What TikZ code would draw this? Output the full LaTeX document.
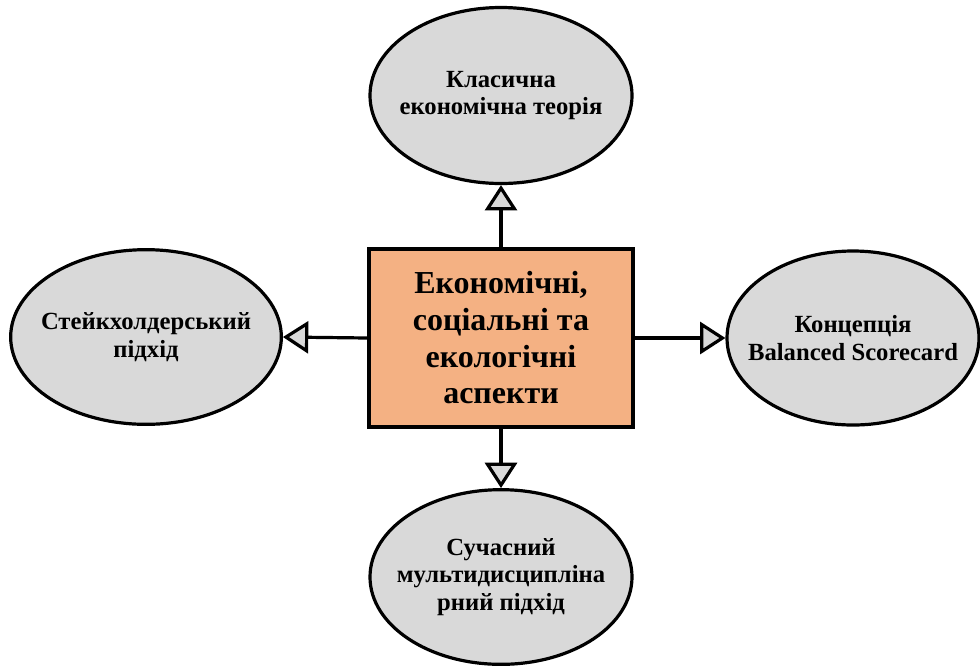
\documentclass[tikz,border=0pt]{standalone}
\usepackage{fontspec}
\setmainfont{Liberation Serif}
\usetikzlibrary{shapes.geometric,arrows.meta}
\definecolor{ellgray}{HTML}{D9D9D9}
\definecolor{coreorange}{HTML}{F4B183}
\begin{document}
\begin{tikzpicture}[x=0.75pt,y=-0.75pt,
  ellnode/.style={ellipse, draw, line width=2.4pt, fill=ellgray, align=center,
    inner xsep=-60pt, inner ysep=-40pt,
    font=\fontsize{18.5}{20.8}\selectfont\bfseries},
  conn/.style={line width=2.4pt, -{Triangle[length=19pt,width=24pt,fill=ellgray]}}]
\useasboundingbox (0,0) rectangle (980,668);
% central box
\node (core) at (501,338) [rectangle, draw, line width=2.4pt, fill=coreorange,
  minimum width=198pt, minimum height=133.5pt, align=center,
  font=\fontsize{24}{27.5}\selectfont\bfseries] {Економічні,\\соціальні та\\екологічні\\аспекти};
% approaches
\node (classic) at (501,95.5) [ellnode, minimum width=196.5pt, minimum height=132pt] {Класична\\економічна теорія};
\node (stake) at (146,337) [ellnode, minimum width=203pt, minimum height=131pt] {Стейкхолдерський\\підхід};
\node (bsc) at (853,338) [ellnode, minimum width=189pt, minimum height=130.5pt] {Концепція\\Balanced Scorecard};
\node (multi) at (501,577) [ellnode, minimum width=196.5pt, minimum height=131pt] {Сучасний\\мультидисципліна\\рний підхід};
% connectors
\draw[conn] (core.north) -- (classic.south);
\draw[conn] (core.west) -- (stake.east);
\draw[conn] (core.east) -- (bsc.west);
\draw[conn] (core.south) -- (multi.north);
\end{tikzpicture}
\end{document}
